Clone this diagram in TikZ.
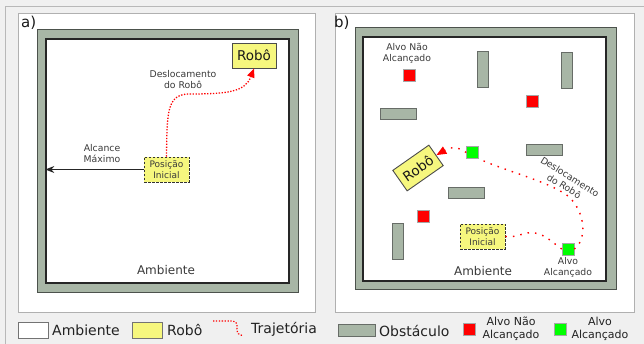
\documentclass[tikz,border=0pt]{standalone}
\usepackage{fontspec}
\setmainfont{DejaVu Sans}
\usetikzlibrary{arrows.meta}

\definecolor{bgpage}{HTML}{F0F0F0}
\definecolor{pageline}{HTML}{B8B8B8}
\definecolor{panelline}{HTML}{B0B0B0}
\definecolor{wallfill}{HTML}{A8B6A6}
\definecolor{wallline}{HTML}{4C524C}
\definecolor{robotfill}{HTML}{F6F77E}
\definecolor{labeltext}{HTML}{3A3A3A}
\definecolor{legendtext}{HTML}{222222}

\tikzset{
  panel/.style={draw=panelline, fill=white, line width=1pt},
  wall/.style={draw=wallline, fill=wallfill, line width=0.9pt},
  arena/.style={draw=black!85, fill=white, line width=1.3pt, inner sep=0pt},
  obstacle/.style={draw=wallline!85, fill=wallfill, line width=0.8pt, inner sep=0pt,
    minimum width=36pt, minimum height=11pt},
  obstaclev/.style={obstacle, minimum width=11pt, minimum height=36pt},
  target/.style={draw=black!35, line width=0.5pt, inner sep=0pt, minimum size=12pt},
  missed/.style={target, fill=red},
  reached/.style={target, fill=green},
  robot/.style={draw=black!70, fill=robotfill, line width=0.9pt, inner sep=0pt,
    minimum width=44pt, minimum height=25pt, text=black!90,
    font=\fontsize{13.5}{15}\selectfont},
  startbox/.style={draw=black!80, dash pattern=on 2.5pt off 1.5pt, fill=robotfill,
    line width=0.9pt, inner sep=0pt, minimum width=45pt, minimum height=25pt,
    align=center, text=labeltext, font=\fontsize{9}{11}\selectfont},
  lbl/.style={align=center, text=labeltext, font=\fontsize{9.3}{11}\selectfont, inner sep=0pt},
  arenalbl/.style={text=labeltext, font=\fontsize{12}{14}\selectfont, inner sep=0pt},
  panellbl/.style={anchor=base west, inner sep=0pt, text=black!90, font=\fontsize{15}{15}\selectfont},
  trajA/.style={red, line width=1.3pt, dash pattern=on 1.3pt off 1.6pt,
    -{Triangle[length=9pt,width=7.5pt]}},
  trajB/.style={red, line width=1.4pt, dash pattern=on 1.5pt off 6pt},
  trajBend/.style={trajB, -{Triangle[length=10pt,width=8pt]}},
  reach/.style={black!85, line width=1pt, -{Stealth[length=9pt,width=7pt,inset=3pt]}},
  legbox/.style={draw=black!55, line width=0.8pt, inner sep=0pt, minimum width=30pt, minimum height=16pt},
  legtext/.style={anchor=base west, inner sep=0pt, text=legendtext, font=\fontsize{14}{16}\selectfont},
  legsmall/.style={align=center, inner sep=0pt, text=legendtext, font=\fontsize{11}{12.5}\selectfont},
}

\begin{document}
\begin{tikzpicture}[x=1pt, y=-1pt]
  % page background
  \fill[bgpage] (0,0) rectangle (644,344);
  \useasboundingbox (0,0) rectangle (644,344);
  \draw[pageline, line width=1pt] (5,350) -- (5,7) -- (650,7);

  % ---------------- panel a ----------------
  \draw[panel] (18,14) rectangle (315,312);
  \node[panellbl] (labA) at (21,28) {a)};
  \draw[wall] (37,29) rectangle (298,292);
  \node[arena, minimum width=243pt, minimum height=244pt] (arenaA) at (167.5,161) {};

  \node[robot] (robotA) at (254,55.5) {Robô};
  \node[startbox] (posA) at (166.5,169.5) {Posição\\Inicial};

  \draw[reach] (posA.west) -- (posA.west -| arenaA.west);
  \node[lbl] (reachlbl) at (102,153.5) {Alcance\\Máximo};

  \draw[trajA] (posA.north) .. controls (167,112) and (167,95) .. (188,94)
                .. controls (228,94) and (245,92) .. (robotA.south);
  \node[lbl] (moveA) at (183,80) {Deslocamento\\do Robô};

  \node[arenalbl] (envA) at (166,270) {Ambiente};

  % ---------------- panel b ----------------
  \draw[panel] (335,14) rectangle (634,312);
  \node[panellbl] (labB) at (334,28) {b)};
  \draw[wall] (355,27) rectangle (616,289);
  \node[arena, minimum width=243pt, minimum height=244pt] (arenaB) at (484.5,159) {};

  % obstacles
  \node[obstacle]  (ob1) at (398,113.5) {};
  \node[obstaclev] (ob2) at (482.5,69) {};
  \node[obstaclev] (ob3) at (566.5,70) {};
  \node[obstacle]  (ob4) at (544.5,149.5) {};
  \node[obstacle]  (ob5) at (466.5,192.5) {};
  \node[obstaclev] (ob6) at (397.5,241) {};

  % targets
  \node[missed]  (m1) at (409,75) {};
  \node[missed]  (m2) at (532,101) {};
  \node[missed]  (m3) at (423,216) {};
  \node[reached] (g1) at (472.5,152.5) {};
  \node[reached] (g2) at (568,249) {};

  \node[lbl] (missedlbl) at (407,53) {Alvo Não\\Alcançado};
  \node[lbl] (reachedlbl) at (568,267.5) {Alvo\\Alcançado};

  \node[startbox] (posB) at (482.5,236.5) {Posição\\Inicial};
  \node[robot, rotate=35] (robotB) at (418,168) {Robô};

  % robot trajectory through the reached targets
  \draw[trajB] (posB.east) .. controls (518,238) and (525,231) .. (535,233)
                .. controls (546,235) and (553,243) .. (g2.west);
  \draw[trajB] (g2.east) .. controls (587,240) and (586,212) .. (568,196)
                .. controls (548,181) and (505,171) .. (g1.south east);
  \draw[trajBend] (g1.west) .. controls (458,147) and (452,146) .. (robotB.east);

  \node[lbl, rotate=-32] (moveB) at (567,181.5) {Deslocamento\\do Robô};
  \node[arenalbl] (envB) at (483,271) {Ambiente};

  % ---------------- legend ----------------
  \node[legbox, fill=white] (kEnv) at (33,330) {};
  \node[legtext] (kEnvT) at (52,335.5) {Ambiente};
  \node[legbox, fill=robotfill] (kRob) at (147.5,330) {};
  \node[legtext] (kRobT) at (167,335.5) {Robô};

  \coordinate (kTrajA) at (213,321);
  \coordinate (kTrajB) at (242,335.5);
  \draw[red, line width=1.2pt, dash pattern=on 1.3pt off 1.6pt]
    (kTrajA) -- (232,321) .. controls (238,321) and (237,326) .. (237,329)
    .. controls (237,333) and (239,335.5) .. (kTrajB);
  \node[legtext] (kTrajT) at (251,333.5) {Trajetória};

  \node[obstacle, minimum width=37pt, minimum height=12pt] (kObs) at (356.5,330) {};
  \node[legtext] (kObsT) at (379,336) {Obstáculo};

  \node[missed] (kMiss) at (469,329) {};
  \node[legsmall] (kMissT) at (511,329) {Alvo Não\\Alcançado};
  \node[reached] (kReach) at (560.5,329) {};
  \node[legsmall] (kReachT) at (600,329) {Alvo\\Alcançado};
\end{tikzpicture}
\end{document}
